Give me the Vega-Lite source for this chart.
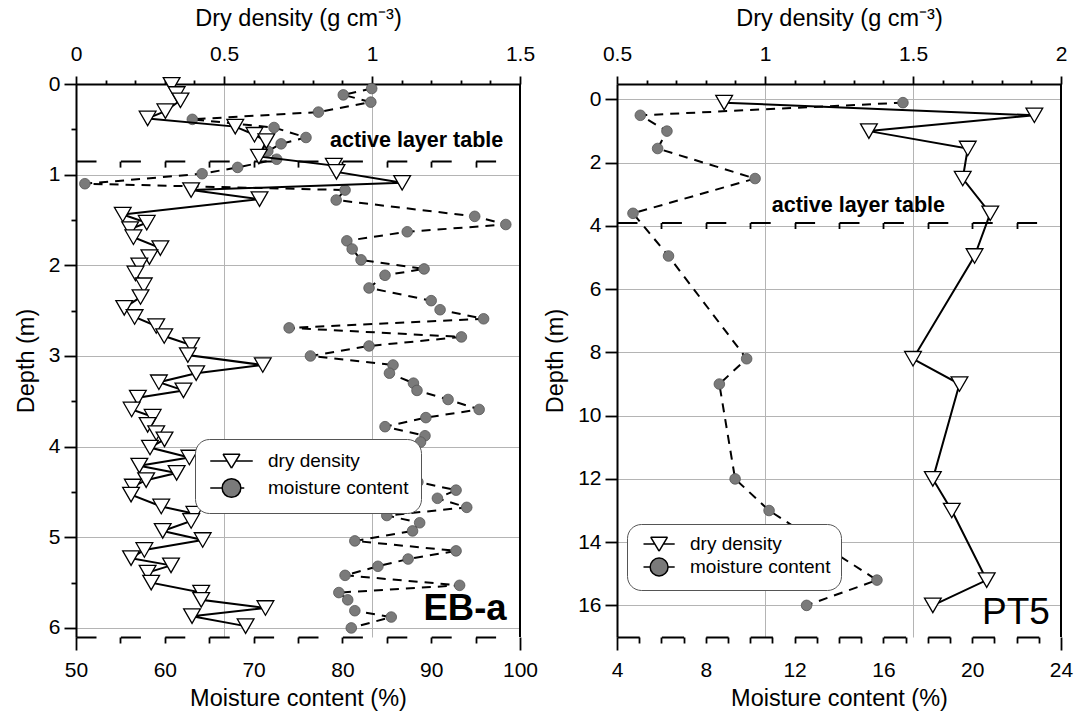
{
  "$schema": "https://vega.github.io/schema/vega-lite/v6.json",
  "padding": {"left": 14, "top": 6, "right": 5, "bottom": 5},
  "spacing": 5,
  "datasets": {
    "eba_dd": [
      {"depth":0.01,"dd":0.323},{"depth":0.11,"dd":0.34},{"depth":0.18,"dd":0.353},{"depth":0.30,"dd":0.302},{"depth":0.38,"dd":0.242},
      {"depth":0.47,"dd":0.538},{"depth":0.56,"dd":0.603},{"depth":0.63,"dd":0.643},{"depth":0.80,"dd":0.618},{"depth":0.90,"dd":0.871},
      {"depth":0.97,"dd":0.88},{"depth":1.09,"dd":1.102},{"depth":1.17,"dd":0.389},{"depth":1.27,"dd":0.62},{"depth":1.44,"dd":0.158},
      {"depth":1.53,"dd":0.239},{"depth":1.60,"dd":0.183},{"depth":1.69,"dd":0.194},{"depth":1.81,"dd":0.285},{"depth":1.91,"dd":0.248},
      {"depth":2.00,"dd":0.214},{"depth":2.09,"dd":0.201},{"depth":2.22,"dd":0.229},{"depth":2.35,"dd":0.218},{"depth":2.47,"dd":0.163},
      {"depth":2.57,"dd":0.198},{"depth":2.67,"dd":0.271},{"depth":2.78,"dd":0.298},{"depth":2.88,"dd":0.389},{"depth":2.99,"dd":0.378},
      {"depth":3.10,"dd":0.631},{"depth":3.19,"dd":0.406},{"depth":3.29,"dd":0.28},{"depth":3.38,"dd":0.363},{"depth":3.46,"dd":0.209},
      {"depth":3.59,"dd":0.188},{"depth":3.67,"dd":0.259},{"depth":3.76,"dd":0.242},{"depth":3.85,"dd":0.271},{"depth":3.92,"dd":0.299},
      {"depth":4.01,"dd":0.25},{"depth":4.12,"dd":0.383},{"depth":4.21,"dd":0.214},{"depth":4.29,"dd":0.34},{"depth":4.37,"dd":0.237},
      {"depth":4.44,"dd":0.192},{"depth":4.53,"dd":0.186},{"depth":4.66,"dd":0.288},{"depth":4.74,"dd":0.4},{"depth":4.82,"dd":0.389},
      {"depth":4.93,"dd":0.293},{"depth":5.03,"dd":0.428},{"depth":5.14,"dd":0.231},{"depth":5.23,"dd":0.186},{"depth":5.31,"dd":0.321},
      {"depth":5.39,"dd":0.242},{"depth":5.50,"dd":0.254},{"depth":5.61,"dd":0.423},{"depth":5.69,"dd":0.423},{"depth":5.78,"dd":0.64},
      {"depth":5.87,"dd":0.392},{"depth":5.98,"dd":0.573}
    ],
    "eba_mc": [
      {"depth":0.05,"mc":83.3},{"depth":0.12,"mc":80.1},{"depth":0.20,"mc":83.2},{"depth":0.31,"mc":77.3},{"depth":0.39,"mc":63.1},
      {"depth":0.48,"mc":72.3},{"depth":0.59,"mc":75.9},{"depth":0.66,"mc":73.1},{"depth":0.74,"mc":71.6},{"depth":0.83,"mc":72.6},
      {"depth":0.92,"mc":68.2},{"depth":0.99,"mc":64.2},{"depth":1.10,"mc":51.0},{"depth":1.17,"mc":80.3},{"depth":1.28,"mc":79.3},
      {"depth":1.46,"mc":94.9},{"depth":1.55,"mc":98.4},{"depth":1.63,"mc":87.3},{"depth":1.73,"mc":80.5},{"depth":1.82,"mc":81.1},
      {"depth":1.94,"mc":82.1},{"depth":2.04,"mc":89.2},{"depth":2.11,"mc":84.8},{"depth":2.25,"mc":83.0},{"depth":2.39,"mc":90.0},
      {"depth":2.49,"mc":91.0},{"depth":2.59,"mc":95.9},{"depth":2.69,"mc":74.0},{"depth":2.79,"mc":93.4},{"depth":2.89,"mc":83.0},
      {"depth":3.00,"mc":76.4},{"depth":3.10,"mc":85.7},{"depth":3.19,"mc":85.3},{"depth":3.30,"mc":88.0},{"depth":3.38,"mc":88.4},
      {"depth":3.48,"mc":91.9},{"depth":3.59,"mc":95.4},{"depth":3.68,"mc":89.4},{"depth":3.78,"mc":84.8},{"depth":3.88,"mc":89.3},
      {"depth":3.95,"mc":88.8},{"depth":4.03,"mc":84.1},{"depth":4.14,"mc":82.6},{"depth":4.22,"mc":87.7},{"depth":4.31,"mc":87.2},
      {"depth":4.39,"mc":88.5},{"depth":4.48,"mc":92.8},{"depth":4.57,"mc":90.7},{"depth":4.67,"mc":94.0},{"depth":4.76,"mc":85.0},
      {"depth":4.84,"mc":88.7},{"depth":4.93,"mc":87.9},{"depth":5.04,"mc":81.4},{"depth":5.15,"mc":92.8},{"depth":5.24,"mc":87.4},
      {"depth":5.32,"mc":84.0},{"depth":5.42,"mc":80.3},{"depth":5.53,"mc":93.2},{"depth":5.61,"mc":79.6},{"depth":5.69,"mc":80.6},
      {"depth":5.81,"mc":81.4},{"depth":5.88,"mc":85.5},{"depth":6.00,"mc":81.0}
    ],
    "pt5": [
      {"depth":0.1,"dd":0.862,"mc":16.88},{"depth":0.5,"dd":1.91,"mc":5.05},{"depth":1.0,"dd":1.351,"mc":6.25},
      {"depth":1.55,"dd":1.685,"mc":5.83},{"depth":2.5,"dd":1.668,"mc":10.22},{"depth":3.6,"dd":1.761,"mc":4.72},
      {"depth":4.95,"dd":1.708,"mc":6.32},{"depth":8.2,"dd":1.5,"mc":9.84},{"depth":9.0,"dd":1.657,"mc":8.61},
      {"depth":12.0,"dd":1.567,"mc":9.32},{"depth":13.0,"dd":1.631,"mc":10.85},{"depth":15.2,"dd":1.749,"mc":15.71},
      {"depth":16.0,"dd":1.567,"mc":12.54}
    ]
  },
  "hconcat": [
    {
      "width": 444,
      "height": 553,
      "layer": [
        {
          "data": {"name": "eba_mc"},
          "encoding": {
            "x": {"field": "mc", "type": "quantitative", "scale": {"domain": [50, 100], "nice": false, "zero": false},
              "axis": {"orient": "bottom", "title": "Moisture content (%)", "values": [50,55,60,65,70,75,80,85,90,95,100],
                "labelExpr": "datum.value % 10 === 0 ? toString(datum.value) : ''", "grid": false, "domainDash": [20, 24.4],
                "tickSize": {"condition": {"test": "datum.value === 50 || datum.value === 100", "value": 13}, "value": 6},
                "labelPadding": {"condition": {"test": "datum.value === 50 || datum.value === 100", "value": 9}, "value": 16},
                "titlePadding": 6}},
            "y": {"field": "depth", "type": "quantitative", "scale": {"domain": [0, 6.1], "reverse": true, "nice": false, "zero": false},
              "axis": {"title": "Depth (m)", "values": [0,0.5,1,1.5,2,2.5,3,3.5,4,4.5,5,5.5,6],
                "labelExpr": "datum.value % 1 === 0 ? toString(datum.value) : ''", "grid": true,
                "gridOpacity": {"condition": {"test": "datum.value % 1 === 0", "value": 1}, "value": 0},
                "tickSize": {"condition": {"test": "datum.value % 1 === 0", "value": 12}, "value": 5},
                "labelPadding": 4, "titlePadding": 10}},
            "order": {"field": "depth", "type": "quantitative"}
          },
          "layer": [
            {"mark": {"type": "line", "color": "black", "strokeWidth": 2, "strokeDash": [9, 7]}},
            {"mark": {"type": "point", "shape": "circle", "filled": true, "fill": "#7a7a7a", "stroke": "#555555", "strokeWidth": 0.8, "size": 113, "opacity": 1}}
          ]
        },
        {
          "data": {"name": "eba_dd"},
          "encoding": {
            "x": {"field": "dd", "type": "quantitative", "scale": {"domain": [0, 1.5], "nice": false, "zero": false},
              "axis": {"orient": "top", "title": "Dry density (g cm⁻³)", "values": [0,0.1,0.2,0.3,0.4,0.5,0.6,0.7,0.8,0.9,1,1.1,1.2,1.3,1.4,1.5],
                "labelExpr": "abs(datum.value*2-round(datum.value*2)) < 0.001 ? toString(datum.value) : ''", "grid": true,
                "gridOpacity": {"condition": {"test": "datum.value === 0.5 || datum.value === 1", "value": 1}, "value": 0},
                "tickSize": {"condition": {"test": "abs(datum.value*2-round(datum.value*2)) < 0.001", "value": 8}, "value": 4},
                "labelPadding": {"condition": {"test": "abs(datum.value*2-round(datum.value*2)) < 0.001", "value": 12}, "value": 16},
                "titlePadding": 13}},
            "y": {"field": "depth", "type": "quantitative"},
            "order": {"field": "depth", "type": "quantitative"}
          },
          "layer": [
            {"mark": {"type": "line", "color": "black", "strokeWidth": 2}},
            {"mark": {"type": "point", "shape": "triangle-down", "filled": true, "fill": "white", "stroke": "black", "strokeWidth": 1.3, "size": 280, "opacity": 1}}
          ]
        },
        {
          "data": {"values": [{}]},
          "layer": [
            {
              "mark": {"type": "text", "text": "active layer table", "fontSize": 21.5, "fontWeight": "bold", "align": "left", "baseline": "alphabetic", "color": "black"},
              "encoding": {
                "x": {"datum": 78.6, "type": "quantitative", "scale": {"domain": [50, 100], "nice": false, "zero": false},
                  "axis": {"orient": "bottom", "offset": -475.9, "title": null, "labels": false, "grid": false, "values": [55,60,65,70,75,80,85,90,95], "tickSize": 6, "domainDash": [20, 24.4]}},
                "y": {"datum": 0.70, "type": "quantitative"}
              }
            },
            {
              "mark": {"type": "text", "text": "EB-a", "fontSize": 36.5, "fontWeight": "bold", "align": "right", "baseline": "alphabetic", "color": "black"},
              "encoding": {
                "x": {"datum": 98.5, "type": "quantitative"},
                "y": {"datum": 5.91, "type": "quantitative"}
              }
            },
            {
              "mark": {"type": "rule", "color": "black", "strokeWidth": 2},
              "encoding": {
                "x": {"datum": 100, "type": "quantitative"},
                "y": {"datum": 0, "type": "quantitative"},
                "y2": {"datum": 6.1}
              }
            }
          ]
        },
        {
          "data": {"values": []},
          "mark": {"type": "point", "filled": true, "fill": "#7a7a7a", "stroke": "black", "strokeWidth": 1.5, "opacity": 1},
          "encoding": {
            "shape": {"field": "s", "type": "nominal",
              "scale": {"domain": ["dry density", "moisture content"], "range": ["M-2.5,0L-0.5,0M0.5,0L2.5,0M-1,-0.8L1,-0.8M1,-0.8L0,0.85M0,0.85L-1,-0.8", "M-2.5,0L-1.1,0M1.1,0L1.5,0M-1.1,0A1.1,1.1,0,1,0,1.1,0A1.1,1.1,0,1,0,-1.1,0Z"]},
              "legend": {"title": null, "orient": "none", "legendX": 119, "legendY": 355, "fillColor": "white", "strokeColor": "#555555", "cornerRadius": 14, "padding": 12.5, "symbolSize": 289, "symbolOffset": 14.5, "labelOffset": 27, "labelFontSize": 19, "rowPadding": 4, "labelLimit": 300,
                "encode": {"symbols": {"update": {"stroke": {"value": "black"}, "strokeWidth": {"value": 1.5}, "fill": {"value": "#7a7a7a"}, "opacity": {"value": 1}}}}}}
          }
        }
      ],
      "resolve": {"scale": {"x": "independent"}, "axis": {"x": "independent"}}
    },
    {
      "width": 444,
      "height": 553,
      "layer": [
        {
          "data": {"name": "pt5"},
          "encoding": {
            "x": {"field": "mc", "type": "quantitative", "scale": {"domain": [4, 24], "nice": false, "zero": false},
              "axis": {"orient": "bottom", "title": "Moisture content (%)", "values": [4,5,6,7,8,9,10,11,12,13,14,15,16,17,18,19,20,21,22,23,24],
                "labelExpr": "datum.value % 4 === 0 ? toString(datum.value) : ''", "grid": false, "domainDash": [22.2, 22.2],
                "tickSize": {"condition": {"test": "datum.value === 4 || datum.value === 24", "value": 13}, "value": 6},
                "labelPadding": {"condition": {"test": "datum.value === 4 || datum.value === 24", "value": 9}, "value": 16},
                "titlePadding": 6}},
            "y": {"field": "depth", "type": "quantitative", "scale": {"domain": [-0.49, 17], "reverse": true, "nice": false, "zero": false},
              "axis": {"title": "Depth (m)", "values": [0,1,2,3,4,5,6,7,8,9,10,11,12,13,14,15,16,17],
                "labelExpr": "datum.value % 2 === 0 && datum.value <= 16 ? toString(datum.value) : ''", "grid": true,
                "gridOpacity": {"condition": {"test": "datum.value % 2 === 0", "value": 1}, "value": 0},
                "tickSize": {"condition": {"test": "datum.value % 2 === 0", "value": 12}, "value": 5},
                "labelPadding": 4, "titlePadding": 10}},
            "order": {"field": "depth", "type": "quantitative"}
          },
          "layer": [
            {"mark": {"type": "line", "color": "black", "strokeWidth": 2, "strokeDash": [9, 7]}},
            {"mark": {"type": "point", "shape": "circle", "filled": true, "fill": "#7a7a7a", "stroke": "#555555", "strokeWidth": 0.8, "size": 113, "opacity": 1}}
          ]
        },
        {
          "data": {"name": "pt5"},
          "encoding": {
            "x": {"field": "dd", "type": "quantitative", "scale": {"domain": [0.5, 2], "nice": false, "zero": false},
              "axis": {"orient": "top", "title": "Dry density (g cm⁻³)", "values": [0.5,0.6,0.7,0.8,0.9,1,1.1,1.2,1.3,1.4,1.5,1.6,1.7,1.8,1.9,2],
                "labelExpr": "abs(datum.value*2-round(datum.value*2)) < 0.001 ? toString(datum.value) : ''", "grid": true,
                "gridOpacity": {"condition": {"test": "datum.value === 1 || datum.value === 1.5", "value": 1}, "value": 0},
                "tickSize": {"condition": {"test": "abs(datum.value*2-round(datum.value*2)) < 0.001", "value": 8}, "value": 4},
                "labelPadding": {"condition": {"test": "abs(datum.value*2-round(datum.value*2)) < 0.001", "value": 12}, "value": 16},
                "titlePadding": 13}},
            "y": {"field": "depth", "type": "quantitative"},
            "order": {"field": "depth", "type": "quantitative"}
          },
          "layer": [
            {"mark": {"type": "line", "color": "black", "strokeWidth": 2}},
            {"mark": {"type": "point", "shape": "triangle-down", "filled": true, "fill": "white", "stroke": "black", "strokeWidth": 1.3, "size": 280, "opacity": 1}}
          ]
        },
        {
          "data": {"values": [{}]},
          "layer": [
            {
              "mark": {"type": "text", "text": "active layer table", "fontSize": 21.5, "fontWeight": "bold", "align": "left", "baseline": "alphabetic", "color": "black"},
              "encoding": {
                "x": {"datum": 10.97, "type": "quantitative", "scale": {"domain": [4, 24], "nice": false, "zero": false},
                  "axis": {"orient": "bottom", "offset": -414.5, "title": null, "labels": false, "grid": false, "values": [6,8,10,12,14,16,18,20,22], "tickSize": 6, "domainDash": [20, 24.4]}},
                "y": {"datum": 3.57, "type": "quantitative"}
              }
            },
            {
              "mark": {"type": "text", "text": "PT5", "fontSize": 37, "align": "right", "baseline": "alphabetic", "color": "black"},
              "encoding": {
                "x": {"datum": 23.5, "type": "quantitative"},
                "y": {"datum": 16.6, "type": "quantitative"}
              }
            },
            {
              "mark": {"type": "rule", "color": "black", "strokeWidth": 2},
              "encoding": {
                "x": {"datum": 24, "type": "quantitative"},
                "y": {"datum": -0.49, "type": "quantitative"},
                "y2": {"datum": 17}
              }
            }
          ]
        },
        {
          "data": {"values": []},
          "mark": {"type": "point", "filled": true, "fill": "#7a7a7a", "stroke": "black", "strokeWidth": 1.5, "opacity": 1},
          "encoding": {
            "shape": {"field": "s", "type": "nominal",
              "scale": {"domain": ["dry density", "moisture content"], "range": ["M-1.95,0L-0.5,0M0.5,0L1.95,0M-1.05,-0.85L1.05,-0.85M1.05,-0.85L0,0.9M0,0.9L-1.05,-0.85", "M-1.95,0L-1.12,0M1.12,0L1.95,0M-1.12,0A1.12,1.12,0,1,0,1.12,0A1.12,1.12,0,1,0,-1.12,0Z"]},
              "legend": {"title": null, "orient": "none", "legendX": 10, "legendY": 440, "fillColor": "white", "strokeColor": "#555555", "cornerRadius": 14, "padding": 10.5, "symbolSize": 256, "symbolOffset": 12.1, "labelOffset": 21.4, "labelFontSize": 19, "rowPadding": 0, "labelLimit": 300,
                "encode": {"symbols": {"update": {"stroke": {"value": "black"}, "strokeWidth": {"value": 1.5}, "fill": {"value": "#7a7a7a"}, "opacity": {"value": 1}}}}}}
          }
        }
      ],
      "resolve": {"scale": {"x": "independent"}, "axis": {"x": "independent"}}
    }
  ],
  "resolve": {"scale": {"shape": "independent"}, "legend": {"shape": "independent"}},
  "config": {
    "font": "Liberation Sans",
    "view": {"stroke": null},
    "axis": {"labelFont": "Liberation Sans", "titleFont": "Liberation Sans", "labelFontSize": 21, "titleFontSize": 23.5, "titleFontWeight": "normal",
      "labelColor": "black", "titleColor": "black", "domainColor": "black", "tickColor": "black", "domainWidth": 2, "tickWidth": 1.8,
      "labelFlush": false, "labelOverlap": false, "gridColor": "#b4b4b4", "gridWidth": 1},
    "legend": {"labelFont": "Liberation Sans", "labelColor": "black"},
    "text": {"font": "Liberation Sans"}
  }
}
